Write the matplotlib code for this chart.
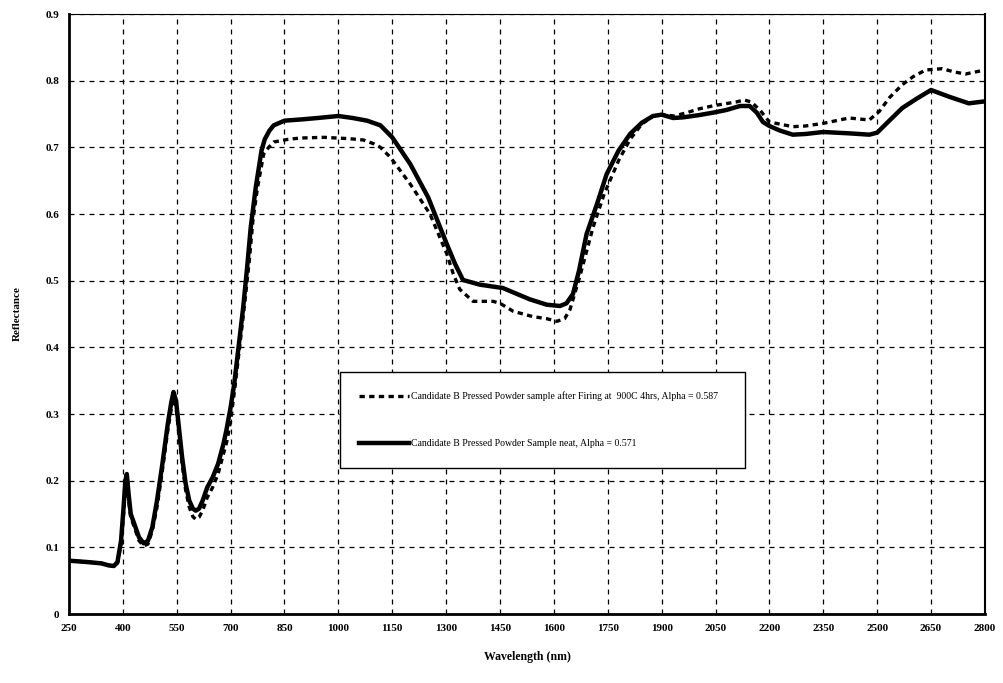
import matplotlib
matplotlib.use("Agg")
import matplotlib.pyplot as plt

# Neat sample (solid)
wl_neat = [250, 300, 340, 360, 375, 385, 395, 402, 407, 411, 416, 422, 432, 445, 458, 470, 482,
           495, 510, 525, 535, 541, 548, 556, 565, 575, 585, 595, 603, 612, 622, 635, 650, 665,
           680, 688, 700, 710, 722, 735, 746, 756, 770, 786, 795, 808, 820, 850, 900, 942, 1000,
           1040, 1080, 1117, 1150, 1200, 1250, 1301, 1325, 1347, 1394, 1458, 1480, 1533, 1580,
           1617, 1635, 1653, 1670, 1691, 1720, 1747, 1780, 1812, 1845, 1876, 1900, 1932, 1960,
           2000, 2043, 2080, 2118, 2145, 2165, 2182, 2200, 2230, 2265, 2300, 2350, 2422, 2478,
           2500, 2530, 2570, 2610, 2650, 2700, 2755, 2800]
refl_neat = [0.080, 0.078, 0.076, 0.073, 0.072, 0.078, 0.11, 0.16, 0.20, 0.21, 0.18, 0.15,
             0.135, 0.115, 0.106, 0.11, 0.13, 0.17, 0.225, 0.285, 0.318, 0.333, 0.32, 0.28,
             0.235, 0.195, 0.17, 0.158, 0.155, 0.158, 0.17, 0.19, 0.205, 0.225, 0.255, 0.275,
             0.31, 0.345, 0.40, 0.46, 0.52, 0.58, 0.64, 0.695, 0.712, 0.725, 0.733, 0.740, 0.742,
             0.744, 0.747, 0.744, 0.740, 0.733, 0.715, 0.675, 0.625, 0.556, 0.525, 0.501, 0.494,
             0.489, 0.484, 0.472, 0.464, 0.462, 0.466, 0.48, 0.515, 0.57, 0.615, 0.66, 0.695,
             0.72, 0.737, 0.747, 0.749, 0.744, 0.745, 0.748, 0.752, 0.756, 0.762, 0.762, 0.752,
             0.738, 0.732, 0.725, 0.719, 0.720, 0.723, 0.721, 0.719, 0.722, 0.738, 0.759, 0.773,
             0.786, 0.776, 0.766, 0.769]

# Fired sample (dashed)
wl_fired = [250, 300, 340, 360, 375, 385, 395, 402, 407, 411, 416, 422, 432, 445, 458, 470, 482,
            495, 510, 525, 535, 541, 548, 556, 565, 575, 585, 595, 603, 612, 622, 635, 650, 665,
            680, 690, 700, 712, 725, 740, 752, 762, 775, 792, 806, 820, 860, 895, 960, 1030, 1070,
            1100, 1117, 1145, 1200, 1255, 1302, 1320, 1338, 1375, 1431, 1450, 1487, 1542, 1580,
            1608, 1630, 1645, 1672, 1709, 1740, 1780, 1812, 1845, 1876, 1900, 1935, 1970, 2006,
            2050, 2107, 2130, 2150, 2175, 2200, 2265, 2300, 2350, 2422, 2478, 2506, 2535, 2570,
            2600, 2635, 2681, 2715, 2746, 2800]
refl_fired = [0.080, 0.078, 0.076, 0.073, 0.072, 0.076, 0.105, 0.15, 0.19, 0.20, 0.17, 0.145,
              0.13, 0.11, 0.102, 0.105, 0.125, 0.16, 0.215, 0.275, 0.308, 0.324, 0.31, 0.27,
              0.225, 0.185, 0.16, 0.146, 0.142, 0.145, 0.155, 0.175, 0.19, 0.21, 0.24, 0.26,
              0.29, 0.34, 0.40, 0.47, 0.53, 0.59, 0.64, 0.69, 0.70, 0.708, 0.712, 0.714, 0.715,
              0.713, 0.711, 0.705, 0.70, 0.685, 0.645, 0.60, 0.54, 0.51, 0.487, 0.469, 0.469,
              0.466, 0.454, 0.446, 0.443, 0.439, 0.443, 0.457, 0.506, 0.58, 0.63, 0.68, 0.712,
              0.735, 0.747, 0.749, 0.747, 0.752, 0.758, 0.763, 0.768, 0.771, 0.768, 0.755, 0.738,
              0.731, 0.732, 0.736, 0.744, 0.741, 0.754, 0.775, 0.794, 0.806, 0.816, 0.818, 0.813,
              0.810, 0.816]

label_fired = "Candidate B Pressed Powder sample after Firing at  900C 4hrs, Alpha = 0.587"
label_neat = "Candidate B Pressed Powder Sample neat, Alpha = 0.571"

x_ticks = list(range(250, 2801, 150))
y_ticks = [0, 0.1, 0.2, 0.3, 0.4, 0.5, 0.6, 0.7, 0.8, 0.9]
y_tick_labels = ["0", "0.1", "0.2", "0.3", "0.4", "0.5", "0.6", "0.7", "0.8", "0.9"]

plt.rcParams['font.family'] = ['Liberation Serif', 'DejaVu Serif']

fig = plt.figure(figsize=(10.04, 6.83), dpi=100)
ax = fig.add_axes([0.0687, 0.1010, 0.9123, 0.8785])

ax.plot(wl_fired, refl_fired, color='black', lw=2.4, linestyle=(0, (1.6, 1.3)), label=label_fired)
ax.plot(wl_neat, refl_neat, color='black', lw=3.2, linestyle='-', label=label_neat,
        solid_joinstyle='round')

ax.set_xlim(250, 2800)
ax.set_ylim(0, 0.9)
ax.set_xticks(x_ticks)
ax.set_xticklabels([str(t) for t in x_ticks], fontweight='bold', fontsize=8)
ax.set_yticks(y_ticks)
ax.set_yticklabels(y_tick_labels, fontweight='bold', fontsize=8)
ax.tick_params(length=0, pad=7)

ax.grid(True, color='black', linestyle=(0, (4, 4)), linewidth=0.9)
ax.set_axisbelow(True)
for s in ax.spines.values():
    s.set_color('black')
ax.spines['left'].set_linewidth(2)
ax.spines['bottom'].set_linewidth(2)
ax.spines['right'].set_linewidth(1.5)
ax.spines['top'].set_linewidth(0.8)

ax.set_xlabel("Wavelength (nm)", fontweight='bold', fontsize=8.5, labelpad=13)
ax.set_ylabel("Reflectance", fontweight='bold', fontsize=8, labelpad=17)

leg = ax.legend(loc='upper left', bbox_to_anchor=(0.2959, 0.303, 0.442, 0.1), mode='expand',
                fontsize=7, frameon=True, fancybox=False, edgecolor='black', framealpha=1,
                labelspacing=3.9, handlelength=5.1, handletextpad=0.2,
                borderpad=2.0, borderaxespad=0)
leg.get_frame().set_linewidth(1.0)

fig.savefig("out.png", dpi=100)
